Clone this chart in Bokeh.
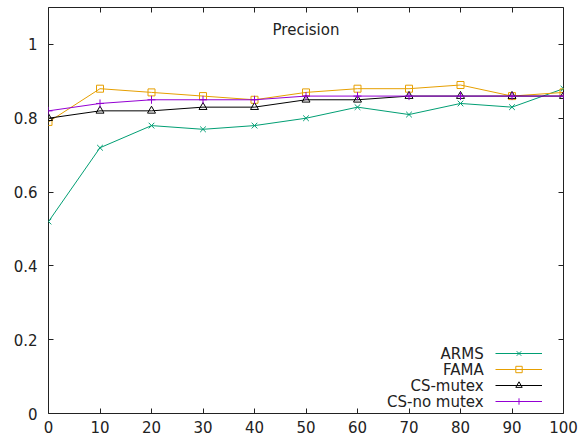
from bokeh.plotting import figure
from bokeh.models import (LinearAxis, FixedTicker, Range1d, Legend, LegendItem, Label,
                          CustomJSTickFormatter)
from bokeh.embed import file_html
from bokeh.resources import INLINE

x_vals = [0, 10, 20, 30, 40, 50, 60, 70, 80, 90, 100]
arms = [0.52, 0.72, 0.78, 0.77, 0.78, 0.80, 0.83, 0.81, 0.84, 0.83, 0.88]
fama = [0.79, 0.88, 0.87, 0.86, 0.85, 0.87, 0.88, 0.88, 0.89, 0.86, 0.87]
cs_mutex = [0.80, 0.82, 0.82, 0.83, 0.83, 0.85, 0.85, 0.86, 0.86, 0.86, 0.86]
cs_nomutex = [0.82, 0.84, 0.85, 0.85, 0.85, 0.86, 0.86, 0.86, 0.86, 0.86, 0.86]
series_names = ["ARMS", "FAMA", "CS-mutex", "CS-no mutex"]
x_ticks = [0, 10, 20, 30, 40, 50, 60, 70, 80, 90, 100]
y_ticks = [0, 0.2, 0.4, 0.6, 0.8, 1.0]
y_tick_labels = ["0", "0.2", "0.4", "0.6", "0.8", "1"]
title_text = "Precision"

FONT = "DejaVu Sans"
FS = "15px"
TXT = "#222222"

p = figure(width=579, height=445, output_backend="svg", toolbar_location=None,
           x_range=Range1d(0, 100), y_range=Range1d(0, 1.1),
           min_border_left=48, min_border_right=16, min_border_top=7, min_border_bottom=32,
           x_axis_location=None, y_axis_location=None)
p.xgrid.visible = False
p.ygrid.visible = False
p.outline_line_color = "#222222"
p.outline_line_width = 1
p.background_fill_color = "white"
p.border_fill_color = "white"

def style_axis(ax, ticks, labels=True):
    ax.ticker = FixedTicker(ticks=ticks)
    ax.major_tick_in = 5
    ax.major_tick_out = 0
    ax.minor_tick_in = 0
    ax.minor_tick_out = 0
    ax.axis_line_color = None
    ax.major_tick_line_color = "#222222"
    ax.major_label_text_font = FONT
    if labels:
        ax.major_label_text_font_size = FS
        ax.major_label_text_color = TXT
    else:
        ax.formatter = CustomJSTickFormatter(code="return '';")
        ax.major_label_text_font_size = "1px"
        ax.major_label_text_color = None
        ax.major_label_standoff = 0

xb = LinearAxis()
style_axis(xb, x_ticks)
xb.major_label_standoff = 7
p.add_layout(xb, "below")

yl = LinearAxis()
style_axis(yl, y_ticks)
yl.major_label_standoff = 11
yl.major_label_overrides = {t: l for t, l in zip(y_ticks, y_tick_labels)}
p.add_layout(yl, "left")

xt = LinearAxis()
style_axis(xt, x_ticks, labels=False)
p.add_layout(xt, "above")

yr = LinearAxis()
style_axis(yr, y_ticks, labels=False)
p.add_layout(yr, "right")

colors = ["#009e73", "#e69f00", "#000000", "#9400d3"]
data = [arms, fama, cs_mutex, cs_nomutex]
items = []
for name, ys, c in zip(series_names, data, colors):
    ln = p.line(x_vals, ys, line_color=c, line_width=1)
    if name == "ARMS":
        mk = p.scatter(x_vals, ys, marker="x", size=8, line_color=c, line_width=1)
    elif name == "FAMA":
        mk = p.scatter(x_vals, ys, marker="square", size=7, line_color=c, fill_color=None, line_width=1)
    elif name == "CS-mutex":
        mk = p.scatter(x_vals, ys, marker="triangle", size=8, line_color=c, fill_color=None, line_width=1)
    else:
        mk = p.scatter(x_vals, ys, marker="cross", size=8, line_color=c, line_width=1)
    items.append(LegendItem(label=name, renderers=[ln, mk]))

legend = Legend(items=items, location=(447, 4), glyph_width=47, glyph_height=16,
                label_text_font_size="1px", label_text_color=None, label_width=0,
                label_standoff=0, label_height=16,
                spacing=0, padding=0, margin=0, border_line_color=None,
                background_fill_alpha=0)
p.add_layout(legend, "center")

leg_y = [0.162, 0.119, 0.0757, 0.0324]
for name, yy in zip(series_names, leg_y):
    p.add_layout(Label(x=84.5, y=yy, text=name, text_align="right", text_baseline="middle",
                       text_font=FONT, text_font_size=FS, text_color=TXT))

p.add_layout(Label(x=50, y=1.038, text=title_text, text_align="center", text_baseline="middle",
                   text_font=FONT, text_font_size=FS, text_color=TXT))

open("out.html", "w").write(file_html(p, INLINE))
